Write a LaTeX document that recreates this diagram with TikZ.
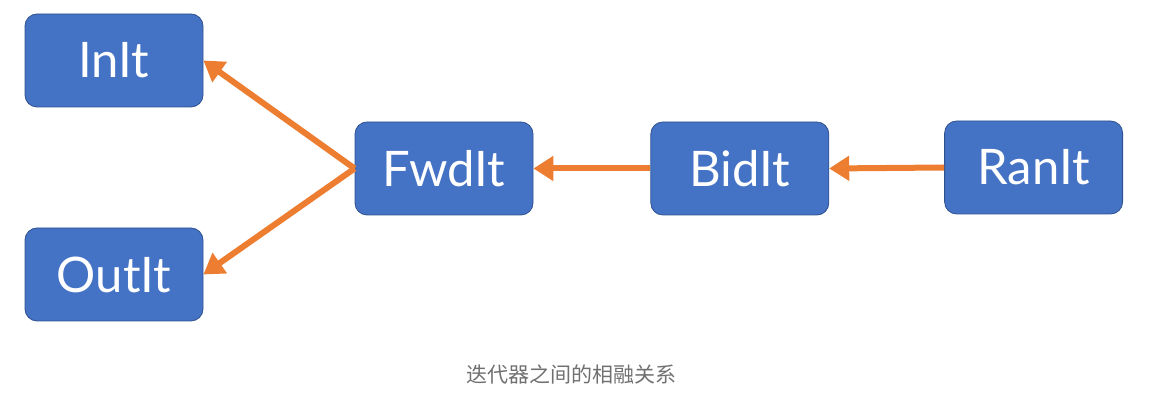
\documentclass[tikz,border=0pt]{standalone}
\usepackage{fontspec}
\setmainfont{Lato}
\newfontfamily\cjk{Noto Sans CJK SC}
\usetikzlibrary{positioning,arrows.meta}
\definecolor{itblue}{HTML}{4472C4}
\definecolor{itborder}{HTML}{2F528F}
\definecolor{itorange}{HTML}{ED7D31}
\definecolor{capgray}{HTML}{707070}
\begin{document}
\begin{tikzpicture}[
x=1pt, y=1pt,
node distance = 117pt,
itbox/.style = {draw=itborder, fill=itblue, rounded corners=12pt, line width=0.8pt,
  minimum width=178pt, minimum height=93pt, inner sep=0pt,
  text=white, font=\fontsize{49}{52}\selectfont},
link/.style = {draw=itorange, line width=6pt, -{Triangle[length=20pt,width=24pt]}},
]
\useasboundingbox (0,0) rectangle (1159,401);
\node[itbox] (fwd) at (444,232.5) {FwdIt};
\node[itbox, right = of fwd] (bid) {BidIt};
\node[itbox, right = 115pt of bid, yshift=1pt] (ran) {RanIt};
\node[itbox] (in) at (114,340.5) {InIt};
\node[itbox] (out) at (114,126.5) {OutIt};
\node[text=capgray, font=\cjk\fontsize{21}{24}\selectfont] (cap) at (571,27) {迭代器之间的相融关系};
\path[link] (fwd.west) -- (in.east) ;
\path[link] (fwd.west) -- (out.east) ;
\path[link] (bid.west) -- (fwd.east) ;
\path[link] (ran.west) -- (bid.east) ;

\end{tikzpicture}
\end{document}
